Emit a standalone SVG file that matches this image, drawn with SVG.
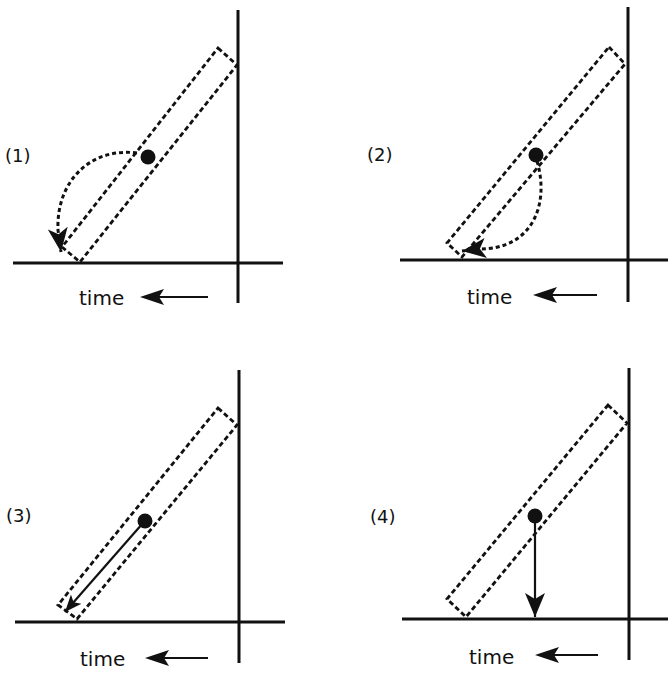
<svg xmlns="http://www.w3.org/2000/svg" width="668" height="673" viewBox="0 0 668 673">
<style>
.axis{stroke:#111;stroke-width:3;fill:none}
.band{stroke:#111;stroke-width:2.8;fill:none;stroke-dasharray:5 3}
.path{stroke:#111;stroke-width:3;fill:none;stroke-dasharray:4 3}
.solid{stroke:#111;stroke-width:2.2;fill:none}
.dot{fill:#111}
.lbl{font-family:"DejaVu Sans",sans-serif;font-size:18px;fill:#111}
.time{font-family:"DejaVu Sans",sans-serif;font-size:20px;fill:#111}
.head{fill:#111}
</style>
<defs>
<marker id="ah" markerUnits="userSpaceOnUse" markerWidth="26" markerHeight="26" viewBox="0 0 26 26" refX="24" refY="13" orient="auto">
<path d="M0,3 L24,13 L0,23 L6,13 Z" fill="#111"/>
</marker>
<marker id="ahs" markerUnits="userSpaceOnUse" markerWidth="18" markerHeight="18" viewBox="0 0 18 18" refX="17" refY="9" orient="auto">
<path d="M0,2 L17,9 L0,16 L4,9 Z" fill="#111"/>
</marker>
</defs>
<rect width="668" height="673" fill="#fff"/>

<g id="panel1">
<line class="axis" x1="238" y1="10" x2="238" y2="303"/>
<line class="axis" x1="13" y1="263" x2="283" y2="263"/>
<polygon class="band" points="218,48 237,65 80,262 62,247"/>
<circle class="dot" cx="148" cy="157" r="7.5"/>
<text class="lbl" x="5" y="162">(1)</text>
<text class="time" x="79" y="305">time</text>
<line class="solid" x1="208" y1="297" x2="158" y2="297" stroke-width="3"/>
<polygon class="head" points="140,297 164,289 159,297 164,305"/>
</g>

<g id="panel2">
<line class="axis" x1="628" y1="7" x2="628" y2="302"/>
<line class="axis" x1="400" y1="260" x2="668" y2="260"/>
<polygon class="band" points="609,47 625,64 462,257 447,243"/>
<circle class="dot" cx="536" cy="155" r="7.5"/>
<text class="lbl" x="367" y="161">(2)</text>
<text class="time" x="467" y="304">time</text>
<line class="solid" x1="597" y1="295" x2="550" y2="295" stroke-width="3"/>
<polygon class="head" points="533,295 557,287 552,295 557,303"/>
</g>

<g id="panel3">
<line class="axis" x1="239" y1="370" x2="239" y2="663"/>
<line class="axis" x1="15" y1="622" x2="285" y2="622"/>
<polygon class="band" points="218,408 237,425 77,619 58,605"/>
<circle class="dot" cx="145" cy="521" r="7.5"/>
<text class="lbl" x="6" y="522">(3)</text>
<text class="time" x="80" y="666">time</text>
<line class="solid" x1="208" y1="658" x2="162" y2="658" stroke-width="3"/>
<polygon class="head" points="145,658 169,650 164,658 169,666"/>
</g>

<g id="panel4">
<line class="axis" x1="629" y1="368" x2="629" y2="660"/>
<line class="axis" x1="402" y1="619" x2="668" y2="619"/>
<polygon class="band" points="608,405 627,423 466,617 447,599"/>
<circle class="dot" cx="535" cy="516" r="7.5"/>
<text class="lbl" x="370" y="523">(4)</text>
<text class="time" x="469" y="664">time</text>
<line class="solid" x1="598" y1="655" x2="552" y2="655" stroke-width="3"/>
<polygon class="head" points="535,655 559,647 554,655 559,663"/>
</g>

<g id="connectors">
<path class="path" d="M137,153 C 92,147 56,180 58,230 L 61,252" marker-end="url(#ah)"/>
<path class="path" d="M537,161 C 550,205 532,250 478,249 L 462,251" marker-end="url(#ah)"/>
<line class="solid" x1="143" y1="523" x2="65" y2="612" marker-end="url(#ahs)"/>
<line class="solid" x1="535" y1="518" x2="535" y2="617" marker-end="url(#ah)"/>
</g>
</svg>
